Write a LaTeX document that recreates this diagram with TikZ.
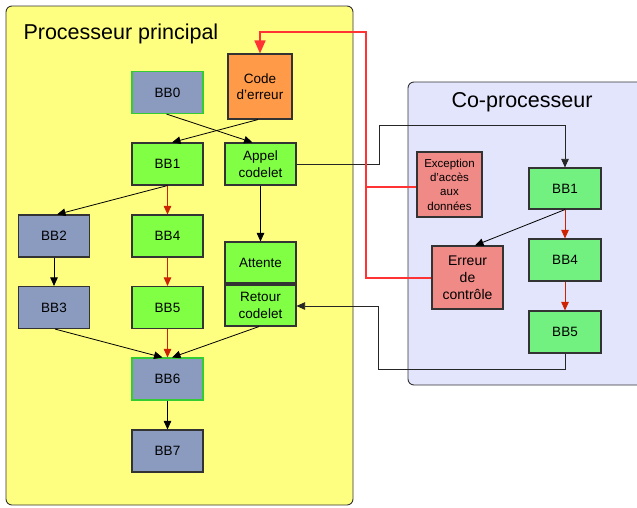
\documentclass[tikz,border=0pt]{standalone}
\usepackage{fontspec}
\setmainfont{Liberation Sans}
\usetikzlibrary{arrows.meta}
\definecolor{zoneyellow}{HTML}{FEFE80}
\definecolor{zoneblue}{HTML}{E3E5FC}
\definecolor{bbgrey}{HTML}{8A9BBF}
\definecolor{bbgreen}{HTML}{80FF44}
\definecolor{cpgreen}{HTML}{72F080}
\definecolor{errorange}{HTML}{FF9A48}
\definecolor{errpink}{HTML}{F08A86}
\definecolor{flowred}{HTML}{CC2200}
\definecolor{faultred}{HTML}{FF3333}
\definecolor{edgegreen}{HTML}{33CC33}
\tikzset{
  zone/.style={draw=black!80, line width=0.9pt, rounded corners=6pt},
  block/.style={draw=black!80, line width=1.1pt, inner sep=0pt, align=center,
    minimum width=71pt, minimum height=42pt, font=\fontsize{13.5}{16.5}\selectfont},
  greyblock/.style={block, fill=bbgrey},
  entryblock/.style={block, fill=bbgrey, draw=edgegreen},
  greenblock/.style={block, fill=bbgreen},
  cpblock/.style={block, fill=cpgreen},
  errblock/.style={block, fill=errpink},
  flow/.style={draw=black, line width=0.8pt, -{Triangle[length=8.5pt,width=7.5pt]}},
  redflow/.style={draw=flowred, line width=0.8pt, -{Triangle[length=8.5pt,width=7.5pt]}},
  link/.style={draw=black!85, line width=0.7pt},
  fault/.style={draw=faultred, line width=1.6pt},
  title/.style={font=\fontsize{21.5}{25}\selectfont}
}
\begin{document}
\begin{tikzpicture}[x=1pt, y=-1pt]
\useasboundingbox (0,0) rectangle (637,507);

% execution zones
\path[zone, fill=zoneyellow] (6,6) rectangle (353,505);
\path[zone, fill=zoneblue] (408,82) rectangle (650,385);
\node[title, anchor=west] (tmain) at (20,34) {Processeur principal};
\node[title] (tcop) at (522,102) {Co-processeur};

% main processor blocks
\node[entryblock] (bb0) at (167.5,92.5) {BB0};
\node[block, fill=errorange, minimum width=64pt, minimum height=65pt] (code) at (260,86.5) {Code\\d'erreur};
\node[greenblock] (bb1) at (167.5,164) {BB1};
\node[greenblock] (appel) at (260.5,164) {Appel\\codelet};
\node[greyblock] (bb2) at (54,236) {BB2};
\node[greenblock] (bb4) at (167.5,236) {BB4};
\node[greenblock, minimum height=41pt] (attente) at (260.5,262.5) {Attente};
\node[greenblock, minimum height=41pt] (retour) at (260.5,305.5) {Retour\\codelet};
\node[greyblock] (bb3) at (54,307.5) {BB3};
\node[greenblock] (bb5) at (167.5,307.5) {BB5};
\node[entryblock] (bb6) at (167.5,379) {BB6};
\node[greyblock] (bb7) at (167.5,451) {BB7};

% co-processor blocks
\node[errblock, minimum width=65pt, minimum height=65pt, font=\fontsize{11.5}{14.3}\selectfont] (exc) at (449.5,184.5) {Exception\\d'accès\\aux\\données};
\node[cpblock, minimum width=72pt, minimum height=41pt] (cbb1) at (565,188.5) {BB1};
\node[cpblock, minimum width=72pt] (cbb4) at (565,260) {BB4};
\node[cpblock, minimum width=72pt] (cbb5) at (565,332) {BB5};
\node[errblock, minimum height=63pt, font=\fontsize{14}{17}\selectfont] (erreur) at (467.5,277.5) {Erreur\\de\\contrôle};

% control flow in the main processor
\draw[flow] ([xshift=-1pt]bb0.south) -- ([xshift=-8pt]appel.north);
\draw[flow] ([xshift=-2pt]code.south) -- ([xshift=4.5pt]bb1.north);
\draw[flow] (bb1.south) -- ([xshift=3pt]bb2.north);
\draw[redflow] (bb1.south) -- (bb4.north);
\draw[redflow] (bb4.south) -- (bb5.north);
\draw[flow] (bb2.south) -- (bb3.north);
\draw[flow] ([xshift=1pt]bb3.south) -- ([xshift=-5pt]bb6.north);
\draw[redflow] (bb5.south) -- (bb6.north);
\draw[flow] ([xshift=-1.5pt]retour.south) -- ([xshift=4.5pt]bb6.north);
\draw[flow] (bb6.south) -- (bb7.north);
\draw[flow] (appel.south) -- (attente.north);

% codelet call and return
\coordinate (callA) at (379,164);
\coordinate (callB) at (379,125);
\coordinate (callC) at (565,125);
\draw[link, -{Triangle[length=8.5pt,width=7.5pt]}] (appel.east) -- (callA) -- (callB) -- (callC) -- (cbb1.north);
\coordinate (retA) at (565,369);
\coordinate (retB) at (378,369);
\coordinate (retC) at (378,306);
\draw[link, -{Triangle[length=8.5pt,width=7.5pt]}] (cbb5.south) -- (retA) -- (retB) -- (retC) -- (retour.east |- retC);

% control flow in the co-processor
\draw[flow] (cbb1.south) -- ([xshift=7.5pt]erreur.north);
\draw[redflow] (cbb1.south) -- (cbb4.north);
\draw[redflow] (cbb4.south) -- (cbb5.north);

% fault signals back to the error handler
\coordinate (fA) at (366,187);
\coordinate (fB) at (366,278);
\coordinate (fC) at (366,32);
\coordinate (fD) at (260,32);
\draw[fault] (exc.west |- fA) -- (fA);
\draw[fault, -{Triangle[length=13pt,width=11pt]}] (erreur.west |- fB) -- (fB) -- (fC) -- (fD) -- (code.north);
\end{tikzpicture}
\end{document}
